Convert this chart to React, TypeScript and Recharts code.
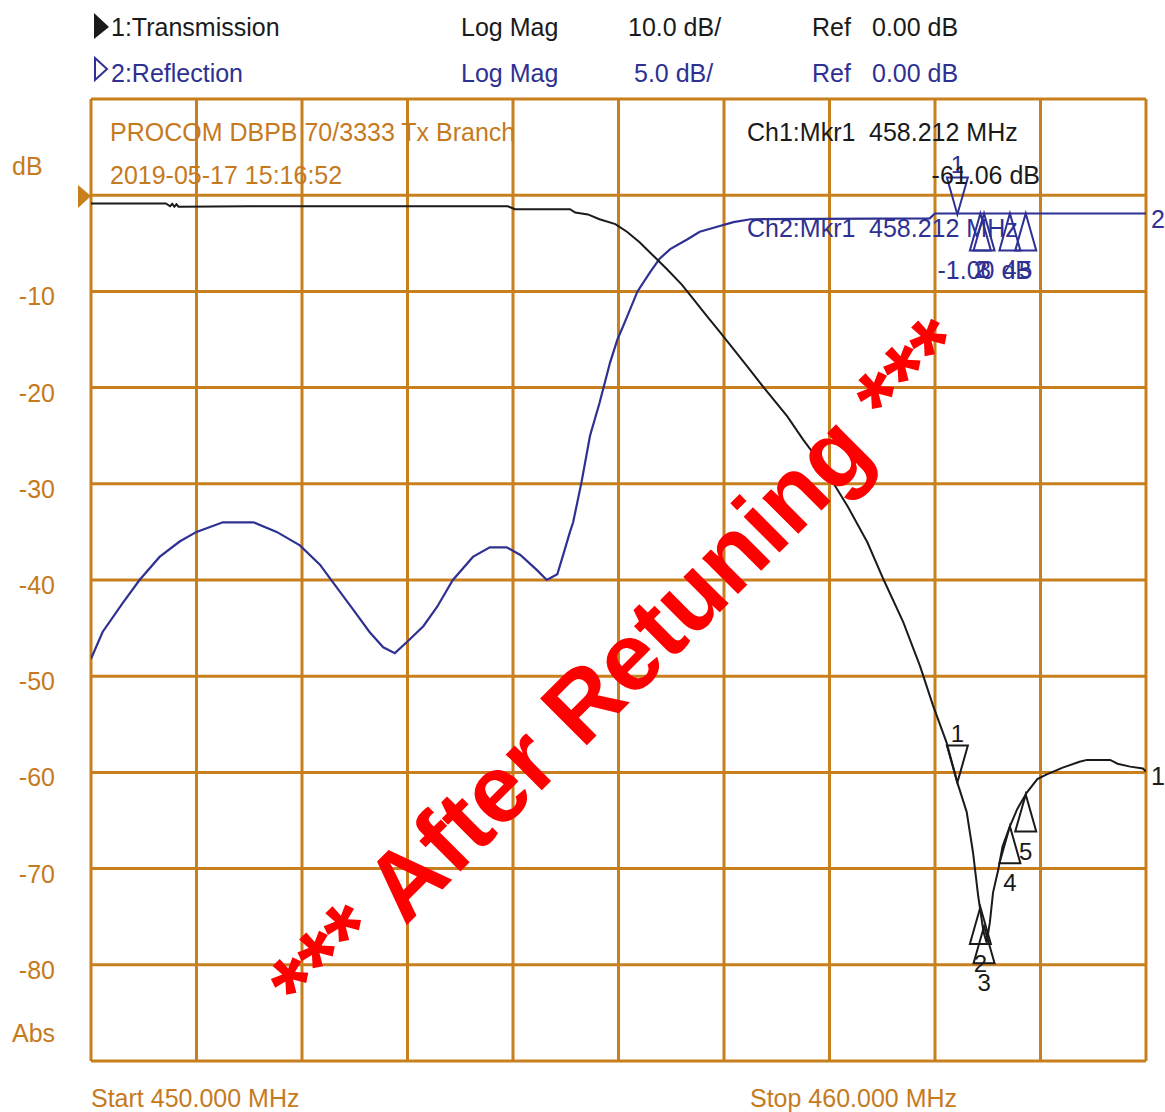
import React from "react";
import { ComposedChart, Line, Scatter, XAxis, YAxis, CartesianGrid } from "recharts";

// trace 1: transmission (MHz / dB, 10 dB/div)
const tFreq = [
  450.0, 450.37, 450.71, 450.75, 450.77, 450.79, 450.81, 450.83, 451.5, 452.5, 453.95, 454.02, 454.54,
  454.59, 454.71, 454.82, 454.97, 455.08, 455.2, 455.33, 455.46, 455.6, 455.71, 455.84, 455.96, 456.09,
  456.22, 456.37, 456.6, 456.75, 456.94, 457.17, 457.36, 457.51, 457.7, 457.86, 457.98, 458.11, 458.212,
  458.3, 458.36, 458.41, 458.46, 458.49, 458.52, 458.55, 458.6, 458.64, 458.71, 458.78, 458.87, 458.97,
  459.06, 459.21, 459.37, 459.44, 459.66, 459.73, 459.85, 459.97, 460.0,
];
const tDb = [
  -0.85, -0.85, -0.85, -1.15, -0.9, -1.2, -0.95, -1.2, -1.15, -1.15, -1.15, -1.45, -1.45,
  -1.8, -2.0, -2.5, -3.0, -3.8, -4.9, -6.3, -7.7, -9.3, -10.8, -12.6, -14.2, -16.0,
  -17.8, -19.9, -23.0, -25.4, -28.2, -32.3, -36.1, -39.9, -44.4, -49.0, -53.0, -56.9, -61.06,
  -64.1, -68.3, -72.9, -76.6, -77.7, -75.6, -72.5, -70.1, -67.7, -65.6, -63.8, -62.1, -60.7,
  -60.2, -59.5, -58.9, -58.7, -58.7, -59.1, -59.4, -59.6, -59.9,
];

// trace 2: reflection (MHz / dB, 5 dB/div)
const rFreq = [
  450.0, 450.11, 450.3, 450.46, 450.65, 450.84, 451.0, 451.25, 451.54, 451.76, 451.98, 452.17, 452.29,
  452.48, 452.64, 452.77, 452.88, 453.0, 453.15, 453.28, 453.43, 453.62, 453.78, 453.94, 454.07, 454.23,
  454.32, 454.42, 454.47, 454.54, 454.57, 454.65, 454.73, 454.82, 454.92, 454.99, 455.06, 455.18, 455.3,
  455.39, 455.49, 455.65, 455.77, 455.96, 456.09, 456.25, 457.95, 458.0, 460.0,
];
const rDb = [
  -24.1, -22.7, -21.2, -20.0, -18.8, -18.0, -17.5, -17.0, -17.0, -17.5, -18.2, -19.2, -20.1,
  -21.5, -22.7, -23.5, -23.8, -23.2, -22.4, -21.4, -20.0, -18.8, -18.3, -18.3, -18.7, -19.5,
  -20.0, -19.7, -18.8, -17.5, -17.0, -14.9, -12.5, -10.8, -8.7, -7.5, -6.6, -5.0, -4.0,
  -3.3, -2.8, -2.3, -1.9, -1.6, -1.4, -1.25, -1.2, -0.95, -0.95,
];

// markers
const mkrNum = ["1", "2", "3", "4", "5"];
const mkrFreq = [458.212, 458.43, 458.465, 458.71, 458.86];
const mkrT = [-61.06, -74.0, -76.0, -65.6, -62.3];
const mkrR = [-1.0, -0.95, -0.95, -0.95, -0.95];

const xTicks = [450, 451, 452, 453, 454, 455, 456, 457, 458, 459, 460];
const yTicks = [10, 0, -10, -20, -30, -40, -50, -60, -70, -80, -90];
const yLabels = [-10, -20, -30, -40, -50, -60, -70, -80];

const ORANGE = "#C8801E";
const TXT_OR = "#C67A1E";
const BLUE = "#2E3192";
const BLACK = "#1A1A1A";
const FONT = "'Liberation Sans', Arial, sans-serif";

const tData = tFreq.map((f, i) => ({ f, db: tDb[i] }));
const rData = rFreq.map((f, i) => ({ f, db: rDb[i] }));
const mT = mkrFreq.map((f, i) => ({ f, db: mkrT[i], n: mkrNum[i] }));
const mR = mkrFreq.map((f, i) => ({ f, db: mkrR[i], n: mkrNum[i] }));

const Marker = ({ cx, cy, payload, color }: any) => {
  if (cx == null || cy == null) return null;
  const w = 10.5;
  const h = 37;
  const down = payload.n === "1";
  if (down) {
    return (
      <g>
        <polygon points={`${cx - w},${cy - h} ${cx + w},${cy - h} ${cx},${cy}`} fill="none" stroke={color} strokeWidth={2} />
        <text x={cx} y={cy - h - 4} textAnchor="middle" fontSize={24} fill={color} fontFamily={FONT}>{payload.n}</text>
      </g>
    );
  }
  return (
    <g>
      <polygon points={`${cx - w},${cy + h} ${cx + w},${cy + h} ${cx},${cy}`} fill="none" stroke={color} strokeWidth={2} />
      <text x={cx} y={cy + h + 28} textAnchor="middle" fontSize={24} fill={color} fontFamily={FONT}>{payload.n}</text>
    </g>
  );
};

const YTick = ({ y, payload }: any) => {
  if (!yLabels.includes(payload.value)) return <g />;
  return (
    <text x={55} y={y + 14} textAnchor="end" fontSize={25} fill={TXT_OR} fontFamily={FONT}>
      {payload.value}
    </text>
  );
};

const NoTick = () => <g />;

const T = (p: any) => <text fontFamily={FONT} fontSize={25} {...p} />;

export default function App() {
  return (
    <div style={{ position: "absolute", left: 0, top: 0, width: 1165, height: 1112, background: "#fff" }}>
      <div style={{ position: "absolute", left: 0, top: 0 }}>
        <ComposedChart width={1165} height={1112} margin={{ top: 99, right: 19, bottom: 46, left: 0 }}>
          <CartesianGrid xAxisId="x" yAxisId="t" stroke={ORANGE} strokeWidth={3} />
          <XAxis xAxisId="x" dataKey="f" type="number" domain={[450, 460]} ticks={xTicks} tick={<NoTick />} axisLine={false} tickLine={false} height={5} allowDataOverflow />
          <YAxis yAxisId="t" type="number" domain={[-90, 10]} ticks={yTicks} width={91} tick={<YTick />} axisLine={false} tickLine={false} allowDataOverflow />
          <YAxis yAxisId="r" type="number" domain={[-45, 5]} hide allowDataOverflow />
          <Line xAxisId="x" yAxisId="r" data={rData} dataKey="db" type="linear" stroke={BLUE} strokeWidth={2.2} dot={false} isAnimationActive={false} />
          <Line xAxisId="x" yAxisId="t" data={tData} dataKey="db" type="linear" stroke={BLACK} strokeWidth={2} dot={false} isAnimationActive={false} />
          <Scatter xAxisId="x" yAxisId="t" data={mT} dataKey="db" shape={(p: any) => <Marker {...p} color={BLACK} />} isAnimationActive={false} />
          <Scatter xAxisId="x" yAxisId="r" data={mR} dataKey="db" shape={(p: any) => <Marker {...p} color={BLUE} />} isAnimationActive={false} />
        </ComposedChart>
      </div>
      <svg width={1165} height={1112} style={{ position: "absolute", left: 0, top: 0, pointerEvents: "none" }}>
        {/* header */}
        <polygon points="94,13 109,27 94,39" fill={BLACK} />
        <T x={111} y={36} fill={BLACK}>1:Transmission</T>
        <T x={461} y={36} fill={BLACK}>Log Mag</T>
        <T x={628} y={36} fill={BLACK}>10.0 dB/</T>
        <T x={812} y={36} fill={BLACK}>Ref</T>
        <T x={872} y={36} fill={BLACK}>0.00 dB</T>
        <polygon points="95,58 107,69 95,80" fill="none" stroke={BLUE} strokeWidth={2} />
        <T x={111} y={82} fill={BLUE}>2:Reflection</T>
        <T x={461} y={82} fill={BLUE}>Log Mag</T>
        <T x={634} y={82} fill={BLUE}>5.0 dB/</T>
        <T x={812} y={82} fill={BLUE}>Ref</T>
        <T x={872} y={82} fill={BLUE}>0.00 dB</T>

        {/* title block */}
        <T x={110} y={141} fill={TXT_OR}>PROCOM DBPB 70/3333 Tx Branch</T>
        <T x={110} y={184} fill={TXT_OR}>2019-05-17 15:16:52</T>

        {/* marker readouts */}
        <T x={747} y={141} fill={BLACK}>Ch1:Mkr1</T>
        <T x={869} y={141} fill={BLACK}>458.212 MHz</T>
        <T x={1040} y={184} fill={BLACK} textAnchor="end">-61.06 dB</T>
        <T x={747} y={237} fill={BLUE}>Ch2:Mkr1</T>
        <T x={869} y={237} fill={BLUE}>458.212 MHz</T>
        <T x={1032} y={279} fill={BLUE} textAnchor="end">-1.00 dB</T>

        {/* axis annotations */}
        <T x={12} y={175} fill={TXT_OR}>dB</T>
        <T x={12} y={1042} fill={TXT_OR}>Abs</T>
        <polygon points="78,185 91,196 78,208" fill={ORANGE} />
        <T x={1151} y={228} fill={BLUE}>2</T>
        <T x={1151} y={785} fill={BLACK}>1</T>
        <T x={91} y={1107} fill={TXT_OR}>Start 450.000 MHz</T>
        <T x={750} y={1107} fill={TXT_OR}>Stop 460.000 MHz</T>

        {/* watermark */}
        <text
          x={642}
          y={690}
          transform="rotate(-45 642 690)"
          textAnchor="middle"
          fontFamily={FONT}
          fontWeight="bold"
          fontSize={96}
          fill="#FF0000"
        >
          *** After Retuning ***
        </text>
      </svg>
    </div>
  );
}
